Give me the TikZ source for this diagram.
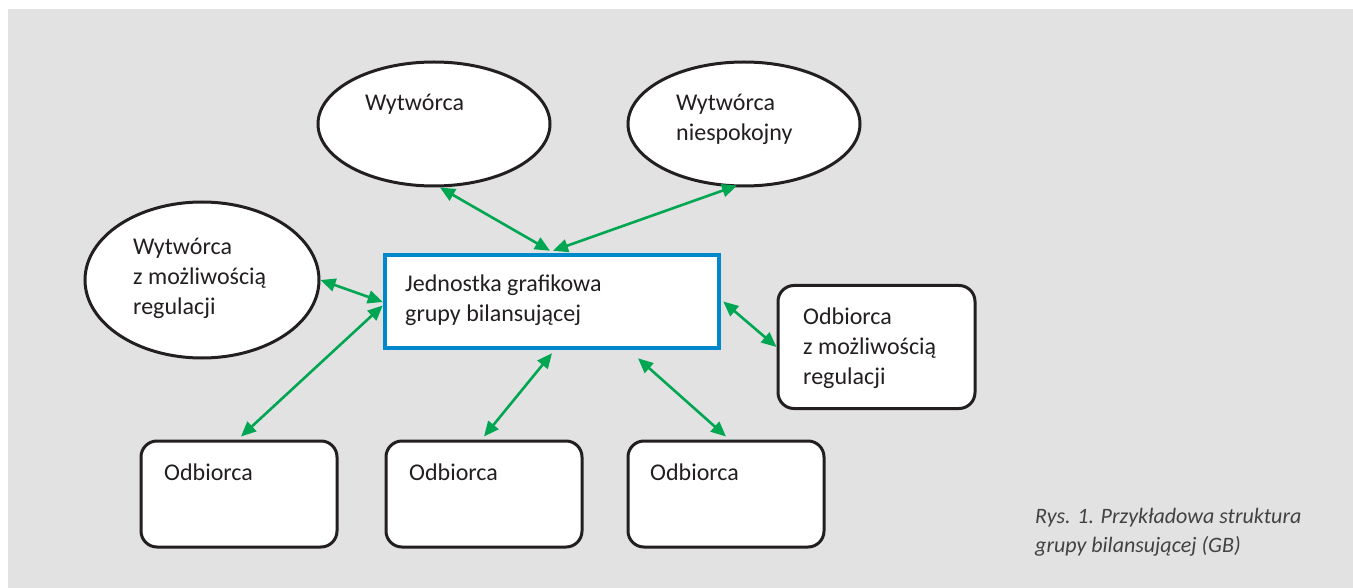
\documentclass[tikz,border=0pt]{standalone}
\usepackage{fontspec}
\setmainfont{Carlito}
\usetikzlibrary{arrows.meta,shapes.geometric}
\definecolor{tlo}{HTML}{E1E2E1}
\definecolor{ink}{HTML}{231F20}
\definecolor{zielony}{HTML}{00A651}
\definecolor{niebieski}{HTML}{0088CC}

\begin{document}
\begin{tikzpicture}[x=1pt, y=-1pt,
	ell/.style={ellipse, draw=ink, line width=3pt, fill=white, inner sep=0pt},
	odb/.style={rectangle, rounded corners=16pt, draw=ink, line width=3pt, fill=white, inner sep=0pt},
	gb/.style={rectangle, draw=niebieski, line width=4.5pt, fill=white, inner sep=0pt},
	txt/.style={align=left, anchor=base west, inner sep=0pt, text=ink, font=\fontsize{24}{30}\selectfont},
	biarr/.style={draw=zielony, line width=2.6pt, {Triangle[length=15pt,width=13pt]}-{Triangle[length=15pt,width=13pt]}}
	]
	\useasboundingbox (0,0) rectangle (1353,588);
	\fill[tlo] (8,9) rectangle (1353,588);
	% wytworcy (tekst: baseline ostatniej linii)
	\node[ell, minimum width=232pt, minimum height=124pt] (wyt) at (434,124) {};
	\node[ell, minimum width=232pt, minimum height=124pt] (wytn) at (744,124) {};
	\node[ell, minimum width=234pt, minimum height=156pt] (wytr) at (202,280) {};
	\node[txt] (twyt) at (365,111) {Wytwórca};
	\node[txt] (twytn) at (676,141) {Wytwórca\\niespokojny};
	\node[txt] (twytr) at (133,315) {Wytwórca\\z możliwością\\regulacji};
	% jednostka grafikowa
	\node[gb, minimum width=334pt, minimum height=93pt] (jgb) at (552,301.5) {};
	\node[txt] (tjgb) at (405,322) {Jednostka grafikowa\\grupy bilansującej};
	% odbiorcy
	\node[odb, minimum width=197pt, minimum height=123pt] (odbr) at (876.5,347) {};
	\node[txt] (todbr) at (803,384) {Odbiorca\\z możliwością\\regulacji};
	\node[odb, minimum width=196pt, minimum height=106pt] (odb1) at (239,494) {};
	\node[odb, minimum width=196pt, minimum height=106pt] (odb2) at (484,494) {};
	\node[odb, minimum width=196pt, minimum height=106pt] (odb3) at (726,494) {};
	\node[txt] (todb1) at (164,480) {Odbiorca};
	\node[txt] (todb2) at (409,480) {Odbiorca};
	\node[txt] (todb3) at (650,480) {Odbiorca};
	% polaczenia
	\draw[biarr] ([xshift=6pt]wyt.south) -- ([xshift=-2pt,yshift=2pt]jgb.north);
	\draw[biarr] ([xshift=-7pt,yshift=2pt]wytn.south) -- ([xshift=1pt,yshift=2pt]jgb.north);
	\draw[biarr] (wytr.east) -- ([yshift=-0.5pt]jgb.west);
	\draw[biarr] ([yshift=-4pt]jgb.west) -- ([xshift=2pt,yshift=3pt]odb1.north);
	\draw[biarr] ([xshift=2pt]jgb.east) -- (odbr.west);
	\draw[biarr] ([yshift=-3pt]jgb.south) -- ([yshift=3pt]odb2.north);
	\draw[biarr] ([xshift=86pt,yshift=-8pt]jgb.south) -- ([yshift=3pt]odb3.north);
	% podpis
	\node[align=left, anchor=base west, inner sep=0pt, text=ink!85, font=\fontsize{22}{29}\selectfont\itshape] (podpis) at (1035,552) {Rys. 1. Przykładowa struktura\\grupy bilansującej (GB)};
\end{tikzpicture}
\end{document}
